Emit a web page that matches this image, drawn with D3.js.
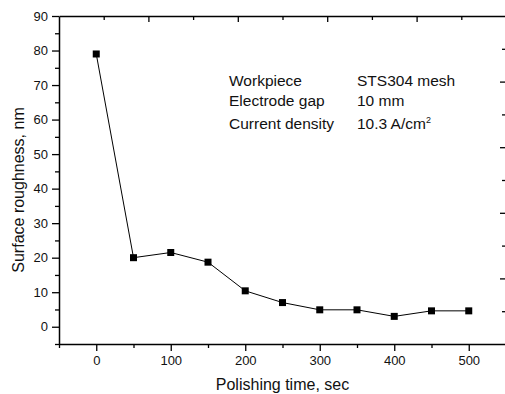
<!DOCTYPE html>
<html>
<head>
<meta charset="utf-8">
<script src="https://cdn.jsdelivr.net/npm/d3@7"></script>
<style>
  body { margin: 0; background: #fff; }
  svg { display: block; font-family: "Liberation Sans", Arial, sans-serif; }
</style>
</head>
<body>
<div id="chart"></div>
<script>
// polishing time (sec) vs surface roughness (nm)
const times = [0, 50, 100, 150, 200, 250, 300, 350, 400, 450, 500];
const roughness = [79, 20, 21.5, 18.7, 10.4, 7.0, 4.9, 4.9, 3.0, 4.6, 4.6];

const xMajor = [0, 100, 200, 300, 400, 500];
const xMinor = [-50, 50, 150, 250, 350, 450, 550];
const yMajor = [0, 10, 20, 30, 40, 50, 60, 70, 80, 90];
const yMinor = [-5, 5, 15, 25, 35, 45, 55, 65, 75, 85];

const infoKeys = ["Workpiece", "Electrode gap", "Current density"];
const infoVals = ["STS304 mesh", "10 mm", "10.3 A/cm"];

const W = 505, H = 394;
const mLeft = 59, mRight = 506, mTop = 16, mBottom = 344;

const svg = d3.select("#chart").append("svg")
  .attr("width", W)
  .attr("height", H);

const x = d3.scaleLinear().domain([-50, 550]).range([mLeft, mRight]);
const y = d3.scaleLinear().domain([-5, 90]).range([mBottom, mTop]);
// top and right frame axes carry their own unlabeled ticks
const xTop = d3.scaleLinear().domain([0, 10]).range([mLeft, mRight]);
const yRight = d3.scaleLinear().domain([0, 10]).range([mBottom, mTop]);

function styleAxis(g) {
  g.select(".domain").attr("stroke", "#000").attr("stroke-width", 1.5);
  g.selectAll(".tick line").attr("stroke", "#000").attr("stroke-width", 1.3);
  g.selectAll(".tick text").attr("fill", "#111").style("font-size", "13px")
    .style("font-family", "'Liberation Sans', Arial, sans-serif");
}

// bottom axis
svg.append("g")
  .attr("transform", "translate(0," + mBottom + ")")
  .call(d3.axisBottom(x).tickValues(xMinor).tickSize(4).tickSizeOuter(0).tickFormat(""))
  .call(styleAxis);
svg.append("g")
  .attr("transform", "translate(0," + mBottom + ")")
  .call(d3.axisBottom(x).tickValues(xMajor).tickSize(7).tickSizeOuter(0).tickPadding(5))
  .call(styleAxis)
  .call(g => g.select(".domain").remove());

// left axis
svg.append("g")
  .attr("transform", "translate(" + mLeft + ",0)")
  .call(d3.axisLeft(y).tickValues(yMinor).tickSize(4).tickSizeOuter(0).tickFormat(""))
  .call(styleAxis);
svg.append("g")
  .attr("transform", "translate(" + mLeft + ",0)")
  .call(d3.axisLeft(y).tickValues(yMajor).tickSize(7).tickSizeOuter(0).tickPadding(4))
  .call(styleAxis)
  .call(g => g.select(".domain").remove());

// top axis, ticks pointing in
svg.append("g")
  .attr("transform", "translate(0," + mTop + ")")
  .call(d3.axisTop(xTop).tickValues(d3.range(1, 10, 2)).tickSize(-4).tickSizeOuter(0).tickFormat(""))
  .call(styleAxis);
svg.append("g")
  .attr("transform", "translate(0," + mTop + ")")
  .call(d3.axisTop(xTop).tickValues(d3.range(2, 10, 2)).tickSize(-6).tickSizeOuter(0).tickFormat(""))
  .call(styleAxis)
  .call(g => g.select(".domain").remove());

// right axis, ticks pointing in
svg.append("g")
  .attr("transform", "translate(" + mRight + ",0)")
  .call(d3.axisRight(yRight).tickValues(d3.range(1, 10, 2)).tickSize(-4).tickSizeOuter(0).tickFormat(""))
  .call(styleAxis);
svg.append("g")
  .attr("transform", "translate(" + mRight + ",0)")
  .call(d3.axisRight(yRight).tickValues(d3.range(2, 10, 2)).tickSize(-6).tickSizeOuter(0).tickFormat(""))
  .call(styleAxis)
  .call(g => g.select(".domain").remove());

// data line + square markers
const pts = times.map((t, i) => ({ t: t, v: roughness[i] }));
const line = d3.line().x(d => x(d.t)).y(d => y(d.v));

svg.append("path")
  .datum(pts)
  .attr("fill", "none")
  .attr("stroke", "#000")
  .attr("stroke-width", 1)
  .attr("d", line);

const sz = 7;
svg.selectAll(".dot")
  .data(pts)
  .enter().append("rect")
  .attr("class", "dot")
  .attr("x", d => x(d.t) - sz / 2)
  .attr("y", d => y(d.v) - sz / 2)
  .attr("width", sz)
  .attr("height", sz)
  .attr("fill", "#000");

// axis titles
svg.append("text")
  .attr("x", (mLeft + mRight) / 2)
  .attr("y", 390)
  .attr("text-anchor", "middle")
  .attr("fill", "#111")
  .style("font-size", "16px")
  .text("Polishing time, sec");

svg.append("text")
  .attr("transform", "rotate(-90)")
  .attr("x", -190)
  .attr("y", 24)
  .attr("text-anchor", "middle")
  .attr("fill", "#111")
  .style("font-size", "16px")
  .text("Surface roughness, nm");

// info block
const rowY = [86, 106, 129];
const info = svg.append("g").attr("fill", "#111").style("font-size", "15.5px");
infoKeys.forEach((k, i) => {
  info.append("text").attr("x", 229).attr("y", rowY[i]).text(k);
  const t = info.append("text").attr("x", 357).attr("y", rowY[i]).text(infoVals[i]);
  if (i === 2) {
    t.append("tspan").attr("dy", -6).style("font-size", "9px").text("2");
  }
});
</script>
</body>
</html>
